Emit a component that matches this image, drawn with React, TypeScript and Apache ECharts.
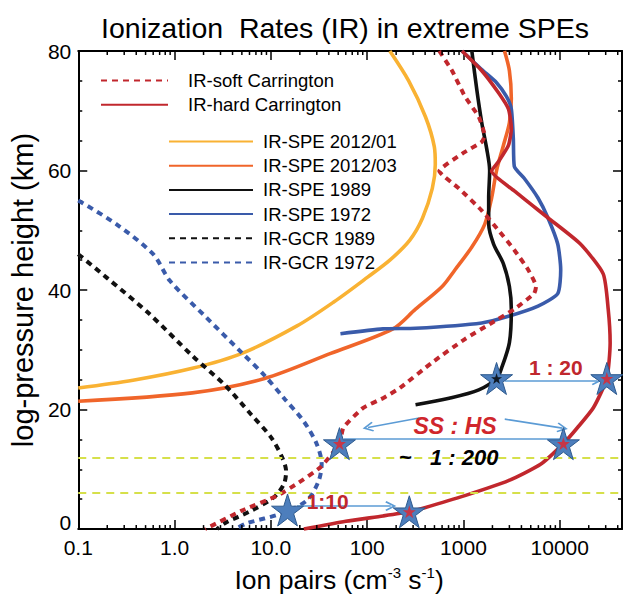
import React, { useEffect, useRef } from "react";
import * as echarts from "echarts";

const FONT = "'Liberation Sans', Arial, Helvetica, sans-serif";

// ---- Axis ticks ----
const xTickValues = [0.1, 1, 10, 100, 1000, 10000];
const xTickLabels = ["0.1", "1.0", "10.0", "100", "1000", "10000"];
const xMin = 0.1;
const xMax = 44300;
const yTickValues = [0, 20, 40, 60, 80];
const minorMultipliers = [2, 3, 4, 5, 6, 7, 8, 9];

// ---- Profiles: [ion pairs (cm^-3 s^-1), height (km)] ----
const softCarrington = [
  [561, 80], [762, 76.7], [1035, 72.4], [1442, 69], [1662, 65.8], [1549, 64.8],
  [966, 62.8], [561, 59.9], [899, 57], [1549, 53.3], [2312, 50], [3373, 46.7],
  [4700, 43.4], [5675, 40.6], [5408, 39.4], [3373, 36.8], [1960, 34.5], [1035, 31.8],
  [475, 27.9], [218, 23.6], [146, 21.9], [91, 20.3], [56.7, 17], [51.6, 14.3],
  [33, 10.4], [18.7, 7.6], [11.7, 5.6], [5, 3.1], [2.08, 0],
];
const hardCarrington = [
  [966, 80], [1549, 76.7], [2312, 73], [2930, 70.3], [3141, 67], [2930, 64.2],
  [2312, 61.5], [1960, 59.9], [3373, 56.6], [7530, 52.1], [16400, 47.7], [28270, 42.7],
  [31850, 36.8], [33370, 31.2], [30800, 25.2], [22340, 20.3], [15310, 17], [10910, 14.3],
  [6380, 10.9], [2930, 8.1], [1035, 5.6], [380, 3.5], [274, 2.9], [146, 2.2],
  [60, 1.3], [22, 0],
];
const spe2012_01 = [
  [172, 80], [270, 75], [403, 69], [498, 64], [510, 61], [475, 57], [375, 52],
  [276, 48.3], [172, 45], [102, 42.2], [45, 38], [18.7, 34], [5, 29.4], [1.53, 26.9],
  [0.37, 24.9], [0.1, 23.6],
];
const spe2012_03 = [
  [2667, 80], [3000, 76.7], [3141, 72], [3000, 68], [2600, 64.2], [2207, 60],
  [1960, 55.4], [1662, 51], [1222, 47.2], [818, 43.4], [601, 40.6], [318, 36.8],
  [185, 33.5], [41.8, 29.4], [8.6, 25.2], [1.53, 22.8], [0.1, 21.4],
];
const spe1989 = [
  [1222, 80], [1374, 73.6], [1549, 68], [1741, 63.7], [1871, 60], [1828, 55.4],
  [1830, 51], [2056, 47.7], [2600, 44.4], [3000, 40.6], [3141, 36.8], [3000, 31.2],
  [2483, 26.9], [2207, 25.2], [1442, 23.3], [710, 21.9], [318, 20.8],
];
const spe1972 = [
  [966, 80], [1549, 76.9], [2207, 74.7], [2793, 72.4], [3141, 70.3], [3296, 65.3],
  [3373, 60.7], [4273, 58.7], [5948, 55.4], [7530, 52.1], [9528, 47.7], [10233, 43.4],
  [9528, 39.4], [5948, 37.3], [2930, 35.6], [1549, 34.5], [318, 33.6], [146, 33.5],
  [52.8, 32.7],
];
const gcr1989 = [
  [0.1, 46], [0.2, 42], [0.54, 36.1], [1.53, 29], [3.33, 24.1], [6.3, 19.1],
  [10.1, 15.3], [13.1, 12], [14.4, 9.7], [13.7, 7.6], [10.9, 5.4], [6.3, 3.1],
  [3.33, 1], [2.76, 0],
];
const gcr1972 = [
  [0.1, 55], [0.25, 51], [0.6, 46], [0.9, 41.5], [2.08, 35.6], [5, 29.5],
  [8.6, 25.7], [13.7, 21.9], [22, 18], [30, 14.2], [33.7, 10.9], [31.4, 8.1],
  [23.7, 4.8], [12.8, 2.6], [5.7, 1], [4.5, 0.2],
];

// ---- Reference heights (dashed) ----
const refHeights = [12, 6];

// ---- Annotation markers ----
const bigStars = [[14.9, 3.2], [274, 2.9], [51.6, 14.3], [10910, 14.3], [2207, 25.2], [30800, 25.2]];
const redInnerStars = [[274, 2.9], [51.6, 14.3], [10910, 14.3], [30800, 25.2]];
const blackInnerStars = [[2207, 25.2]];

// arrows
const arrowFrom = [[18.7, 3.85], [347, 18.6], [2685, 18.4], [2685, 24.9], [57, 15.1]];
const arrowTo = [[176, 3.85], [102, 17.0], [10660, 16.9], [24500, 24.9], [10000, 15.1]];
const arrowHead = [true, true, true, true, false];

const noteTexts = ["1:10", "SS : HS", "~   1 : 200", "1 : 20"];
const notePos = [[38.9, 4.7], [818, 17.2], [700, 12], [9100, 27]];
const noteColors = ["#C0272D", "#D0262C", "#000000", "#C0272D"];
const noteSizes = [21, 23, 22, 21];
const noteItalic = [false, true, true, false];

const STAR = "path://M50,0 L61.2,34.5 L97.6,34.5 L68.2,55.9 L79.4,90.5 L50,69.1 L20.6,90.5 L31.8,55.9 L2.4,34.5 L38.8,34.5 Z";
const CHEVRON = "path://M5,0 L10,9 L8.7,10 L5,3.4 L1.3,10 L0,9 Z";

function fmtX(v: number) {
  for (let i = 0; i < xTickValues.length; i++) {
    if (Math.abs(Math.log10(v) - Math.log10(xTickValues[i])) < 1e-6) return xTickLabels[i];
  }
  return "";
}

export default function App() {
  const ref = useRef<HTMLDivElement>(null);
  useEffect(() => {
    if (!ref.current) return;
    const chart = echarts.init(ref.current, null, { renderer: "svg" });

    const minorTicks: number[][] = [];
    xTickValues.forEach((d) => {
      minorMultipliers.forEach((m) => {
        const v = d * m;
        if (v < xMax) minorTicks.push([v, 0]);
      });
    });

    const lineSeries = (name: string, data: number[][], color: string, dotted: boolean, width = 3.6, smooth = 0.3) => ({
      name,
      type: "line",
      data,
      symbol: "none",
      smooth,
      clip: true,
      lineStyle: { color, width, type: dotted ? [6, 5] : "solid", cap: "butt", join: "round" },
      itemStyle: { color },
      z: 3,
    });

    const axisCommon = {
      axisLine: { show: true, onZero: false, lineStyle: { color: "#000", width: 2 } },
      axisTick: { show: true, inside: true, length: 9, lineStyle: { color: "#000", width: 1.5 } },
      splitLine: { show: false },
    };

    const legendCommon = {
      orient: "vertical",
      padding: 0,
      itemHeight: 14,
      selectedMode: false,
      itemStyle: { opacity: 0, borderWidth: 0 },
    };

    const option: any = {
      animation: false,
      backgroundColor: "#ffffff",
      textStyle: { fontFamily: FONT },
      title: {
        text: "Ionization  Rates (IR) in extreme SPEs",
        left: 345,
        top: 13,
        textAlign: "center",
        padding: 0,
        textStyle: { fontSize: 28.5, fontWeight: "normal", color: "#000", fontFamily: FONT },
      },
      legend: [
        {
          ...legendCommon,
          left: 100,
          top: 70.5,
          itemGap: 4.3,
          itemWidth: 67,
          data: ["IR-soft Carrington", "IR-hard Carrington"],
          textStyle: { fontSize: 18.5, color: "#000", fontFamily: FONT, lineHeight: 20, padding: [0, 0, 0, 15] },
        },
        {
          ...legendCommon,
          left: 168,
          top: 131.5,
          itemGap: 4.2,
          itemWidth: 84,
          data: ["IR-SPE 2012/01", "IR-SPE 2012/03", "IR-SPE 1989", "IR-SPE 1972", "IR-GCR 1989", "IR-GCR 1972"],
          textStyle: { fontSize: 18.5, color: "#000", fontFamily: FONT, lineHeight: 20, padding: [0, 0, 0, 5] },
        },
      ],
      grid: { left: 71.5, right: 1, top: 51, bottom: 62, containLabel: false },
      xAxis: [
        {
          type: "log",
          min: xMin,
          max: xMax,
          logBase: 10,
          position: "bottom",
          ...axisCommon,
          axisLabel: {
            show: true,
            formatter: fmtX,
            showMaxLabel: false,
            fontSize: 21,
            color: "#000",
            margin: 8,
            fontFamily: FONT,
          },
          name: "{a|Ion pairs (cm}{s|-3}{a| s}{s|-1}{a|)}",
          nameLocation: "middle",
          nameGap: 29,
          nameTextStyle: {
            padding: [0, 22, 0, 0],
            rich: {
              a: { fontSize: 26.5, color: "#000", fontFamily: FONT, lineHeight: 30, verticalAlign: "bottom" },
              s: { fontSize: 15, color: "#000", fontFamily: FONT, lineHeight: 30, verticalAlign: "top", padding: [2, 0, 0, 0] },
            },
          },
        },
        {
          type: "log",
          min: xMin,
          max: xMax,
          logBase: 10,
          position: "top",
          ...axisCommon,
          axisLabel: { show: false },
        },
      ],
      yAxis: [
        {
          type: "value",
          min: 0,
          max: 80,
          interval: 20,
          position: "left",
          ...axisCommon,
          minorTick: { show: true, splitNumber: 4, length: 4, lineStyle: { color: "#000", width: 1.5 } },
          axisLabel: {
            fontSize: 21,
            color: "#000",
            margin: 7,
            fontFamily: FONT,
            formatter: (v: number) => (yTickValues.indexOf(v) >= 0 ? (v === 0 ? "{z|0}" : String(v)) : ""),
            rich: { z: { fontSize: 21, color: "#000", fontFamily: FONT, padding: [0, 0, 14, 0] } },
          },
          name: "log-pressure height (km)",
          nameLocation: "middle",
          nameGap: 30,
          nameTextStyle: { fontSize: 29, color: "#000", fontFamily: FONT },
        },
        {
          type: "value",
          min: 0,
          max: 80,
          interval: 20,
          position: "right",
          ...axisCommon,
          minorTick: { show: true, splitNumber: 4, length: 4, lineStyle: { color: "#000", width: 1.5 } },
          axisLabel: { show: false },
        },
      ],
      series: [
        {
          name: "refLines",
          type: "line",
          data: [],
          markLine: {
            silent: true,
            symbol: ["none", "none"],
            label: { show: false },
            lineStyle: { color: "#D6E04A", width: 1.8, type: [8, 6] },
            data: refHeights.map((h) => ({ yAxis: h })),
          },
          z: 1,
        },
        lineSeries("IR-SPE 2012/01", spe2012_01, "#F9B233", false),
        lineSeries("IR-SPE 2012/03", spe2012_03, "#F0652A", false),
        lineSeries("IR-GCR 1989", gcr1989, "#111111", true, 4),
        lineSeries("IR-GCR 1972", gcr1972, "#3A5BAA", true, 4),
        lineSeries("IR-SPE 1972", spe1972, "#3A5BAA", false, 3.6, 0.2),
        lineSeries("IR-SPE 1989", spe1989, "#111111", false),
        lineSeries("IR-soft Carrington", softCarrington, "#C1272D", true, 4, 0.15),
        lineSeries("IR-hard Carrington", hardCarrington, "#C1272D", false, 3.6, 0.2),
        {
          name: "minorTicks",
          type: "custom",
          data: minorTicks,
          silent: true,
          clip: false,
          z: 5,
          renderItem: (params: any, api: any) => {
            const v = api.value(0);
            const b = api.coord([v, 0]);
            const t = api.coord([v, 80]);
            return {
              type: "group",
              children: [
                { type: "line", shape: { x1: b[0], y1: b[1], x2: b[0], y2: b[1] - 4 }, style: { stroke: "#000", lineWidth: 1.5 } },
                { type: "line", shape: { x1: t[0], y1: t[1], x2: t[0], y2: t[1] + 4 }, style: { stroke: "#000", lineWidth: 1.5 } },
              ],
            };
          },
        },
        {
          name: "arrows",
          type: "line",
          data: [],
          z: 6,
          markLine: {
            silent: true,
            label: { show: false },
            symbolSize: [10, 11],
            lineStyle: { color: "#5B9BD5", width: 1.6, type: "solid" },
            data: arrowFrom.map((f, i) => [
              { coord: f, symbol: "none" },
              { coord: arrowTo[i], symbol: arrowHead[i] ? CHEVRON : "none" },
            ]),
          },
        },
        {
          name: "stars",
          type: "scatter",
          data: bigStars,
          symbol: STAR,
          symbolSize: 32,
          itemStyle: { color: "#4D7EBC", borderColor: "#2E5A8E", borderWidth: 1, opacity: 1 },
          z: 7,
          silent: true,
        },
        {
          name: "redStars",
          type: "scatter",
          data: redInnerStars,
          symbol: STAR,
          symbolSize: 13,
          itemStyle: { color: "#E3242B" },
          z: 8,
          silent: true,
        },
        {
          name: "blackStars",
          type: "scatter",
          data: blackInnerStars,
          symbol: STAR,
          symbolSize: 11,
          itemStyle: { color: "#000" },
          z: 8,
          silent: true,
        },
        {
          name: "notes",
          type: "scatter",
          symbolSize: 1,
          itemStyle: { color: "transparent" },
          z: 9,
          silent: true,
          data: noteTexts.map((t, i) => ({
            value: notePos[i],
            label: {
              show: true,
              position: "inside",
              formatter: t,
              color: noteColors[i],
              fontSize: noteSizes[i],
              fontWeight: "bold",
              fontStyle: noteItalic[i] ? "italic" : "normal",
              fontFamily: FONT,
              textBorderWidth: 0,
              textBorderColor: "transparent",
              opacity: 1,
            },
          })),
        },
      ],
    };

    chart.setOption(option);
    return () => chart.dispose();
  }, []);

  return (
    <div
      ref={ref}
      style={{ position: "absolute", left: 0, top: 0, width: 623, height: 598, background: "#fff" }}
    />
  );
}
